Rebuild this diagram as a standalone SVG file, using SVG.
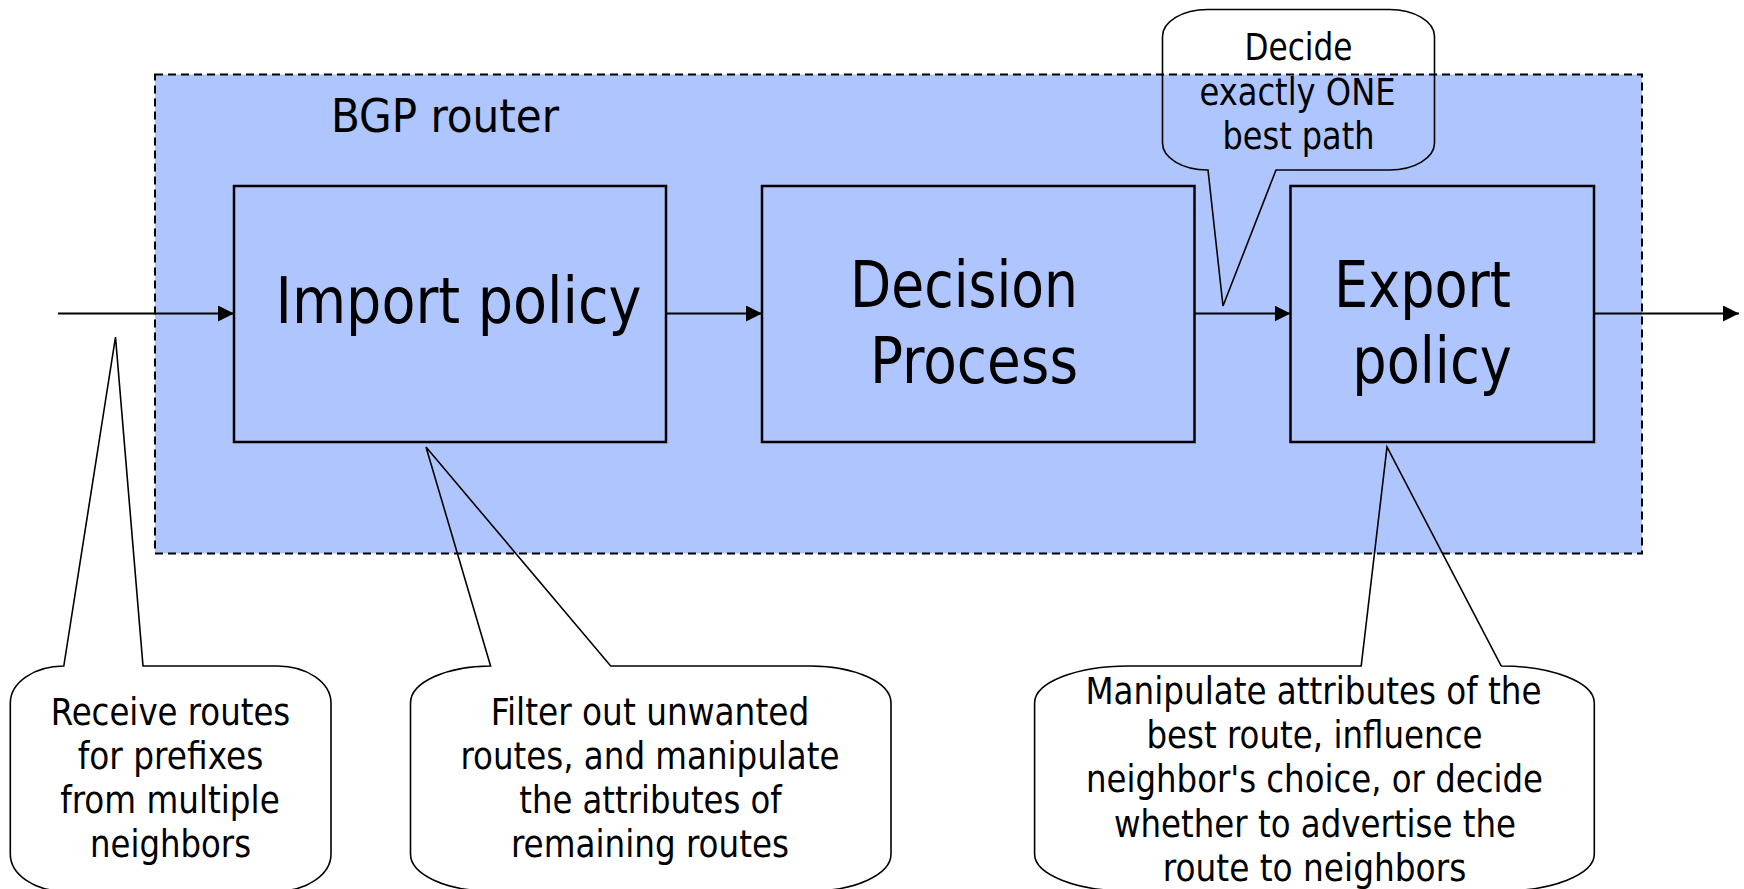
<svg xmlns="http://www.w3.org/2000/svg" width="1744" height="889" viewBox="0 0 1744 889">
<defs>
<style>
.t{font-family:"DejaVu Sans Condensed","DejaVu Sans","Liberation Sans",sans-serif;fill:#000;text-anchor:middle}
.big{font-size:64px}
.mid{font-size:47px}
.sm{font-size:37px}
.box{fill:none;stroke:#000;stroke-width:2.5}
.co{fill:none;stroke:#000;stroke-width:1.6;stroke-linejoin:miter}
.ln{stroke:#000;stroke-width:2;fill:none}
</style>
<marker id="ah" markerUnits="userSpaceOnUse" markerWidth="16" markerHeight="16" refX="16" refY="8" orient="auto">
<path d="M0,0 L16,8 L0,16 Z" fill="#000"/>
</marker>
</defs>
<rect width="1744" height="889" fill="#fff"/>
<g id="router">
<rect x="155" y="74.5" width="1487" height="479" fill="#AEC6FD" stroke="#000" stroke-width="2" stroke-dasharray="8 5"/>
<text class="t mid" x="445" y="132" textLength="228" lengthAdjust="spacingAndGlyphs">BGP router</text>
</g>
<g id="import">
<rect class="box" x="234" y="186" width="432" height="256"/>
<text class="t big" x="458.5" y="323" textLength="366" lengthAdjust="spacingAndGlyphs">Import policy</text>
</g>
<g id="decision">
<rect class="box" x="762" y="186" width="432.5" height="256"/>
<text class="t big" x="964" y="306.5" textLength="228" lengthAdjust="spacingAndGlyphs">Decision</text>
<text class="t big" x="974" y="383" textLength="208" lengthAdjust="spacingAndGlyphs">Process</text>
</g>
<g id="export">
<rect class="box" x="1290.5" y="186" width="303.5" height="256"/>
<text class="t big" x="1422.5" y="306.5" textLength="177" lengthAdjust="spacingAndGlyphs">Export</text>
<text class="t big" x="1432" y="383" textLength="159.5" lengthAdjust="spacingAndGlyphs">policy</text>
</g>
<g id="connectors">
<line class="ln" x1="58" y1="313.5" x2="234" y2="313.5" marker-end="url(#ah)"/>
<line class="ln" x1="666" y1="313.5" x2="762" y2="313.5" marker-end="url(#ah)"/>
<line class="ln" x1="1194.5" y1="313.5" x2="1290.5" y2="313.5" marker-end="url(#ah)"/>
<line class="ln" x1="1594" y1="313.5" x2="1739" y2="313.5" marker-end="url(#ah)"/>
</g>
<g id="callout-decide">
<path class="co" d="M1207.5,9.5 L1389.5,9.5 A45,27 0 0 1 1434.5,36.5 L1434.5,143 A45,27 0 0 1 1389.5,170 L1276,170 L1223,306 L1208,170 L1207.5,170 A45,27 0 0 1 1162.5,143 L1162.5,36.5 A45,27 0 0 1 1207.5,9.5 Z"/>
<text class="t sm" x="1298.5" y="60" textLength="108" lengthAdjust="spacingAndGlyphs">Decide</text>
<text class="t sm" x="1297.5" y="104.5" textLength="196" lengthAdjust="spacingAndGlyphs">exactly ONE</text>
<text class="t sm" x="1298.5" y="148.5" textLength="152" lengthAdjust="spacingAndGlyphs">best path</text>
</g>
<g id="callout-receive">
<path class="co" d="M63.8,666 L115.5,337 L143,666 L277.5,666 A53.5,37 0 0 1 331,703 L331,854 A53.5,37 0 0 1 277.5,891 L63.8,891 A53.5,37 0 0 1 10.3,854 L10.3,703 A53.5,37 0 0 1 63.8,666 Z"/>
<text class="t sm" x="170.5" y="725" textLength="239.5" lengthAdjust="spacingAndGlyphs">Receive routes</text>
<text class="t sm" x="170.5" y="769" textLength="185.5" lengthAdjust="spacingAndGlyphs">for prefixes</text>
<text class="t sm" x="170" y="813" textLength="219.5" lengthAdjust="spacingAndGlyphs">from multiple</text>
<text class="t sm" x="170.5" y="857" textLength="161" lengthAdjust="spacingAndGlyphs">neighbors</text>
</g>
<g id="callout-filter">
<path class="co" d="M490.6,666 L426,447 L610.7,666 L810.9,666 A80.1,37 0 0 1 891,703 L891,854 A80.1,37 0 0 1 810.9,891 L490.6,891 A80.1,37 0 0 1 410.5,854 L410.5,703 A80.1,37 0 0 1 490.6,666 Z"/>
<text class="t sm" x="650" y="725" textLength="318.5" lengthAdjust="spacingAndGlyphs">Filter out unwanted</text>
<text class="t sm" x="650" y="769" textLength="379" lengthAdjust="spacingAndGlyphs">routes, and manipulate</text>
<text class="t sm" x="650.5" y="813" textLength="262.5" lengthAdjust="spacingAndGlyphs">the attributes of</text>
<text class="t sm" x="650" y="857" textLength="278" lengthAdjust="spacingAndGlyphs">remaining routes</text>
</g>
<g id="callout-export">
<path class="co" d="M1127.9,666 L1361.2,666 L1387,447 L1501.2,666 L1501,666 A93.3,37 0 0 1 1594.3,703 L1594.3,854 A93.3,37 0 0 1 1501,891 L1127.9,891 A93.3,37 0 0 1 1034.6,854 L1034.6,703 A93.3,37 0 0 1 1127.9,666 Z"/>
<text class="t sm" x="1313.5" y="703.5" textLength="456" lengthAdjust="spacingAndGlyphs">Manipulate attributes of the</text>
<text class="t sm" x="1314.5" y="748" textLength="336" lengthAdjust="spacingAndGlyphs">best route, influence</text>
<text class="t sm" x="1314.5" y="792" textLength="457" lengthAdjust="spacingAndGlyphs">neighbor's choice, or decide</text>
<text class="t sm" x="1315" y="836.5" textLength="402" lengthAdjust="spacingAndGlyphs">whether to advertise the</text>
<text class="t sm" x="1314.5" y="880.5" textLength="303.5" lengthAdjust="spacingAndGlyphs">route to neighbors</text>
</g>
</svg>
